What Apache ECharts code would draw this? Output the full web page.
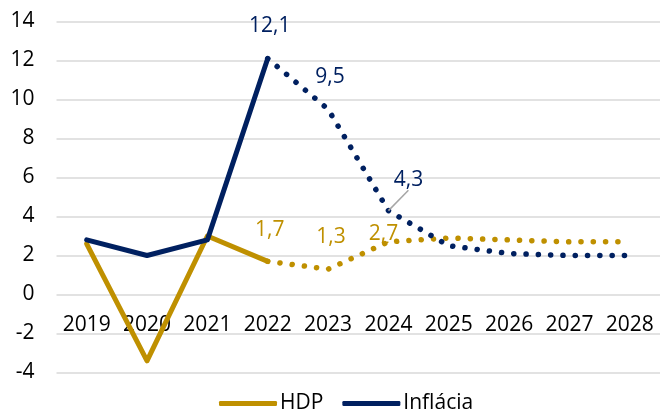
<!DOCTYPE html>
<html>
<head>
<meta charset="utf-8">
<script src="https://cdn.jsdelivr.net/npm/echarts@6/dist/echarts.min.js"></script>
<style>
html,body{margin:0;padding:0;background:#fff;}
#c{width:660px;height:411px;}
</style>
</head>
<body>
<div id="c"></div>
<script>
var years = ['2019','2020','2021','2022','2023','2024','2025','2026','2027','2028'];
var hdpActual = [2.6, -3.4, 3.0, 1.7, null, null, null, null, null, null];
var hdpForecast = [null, null, null, 1.7, 1.3, 2.7, 2.9, 2.8, 2.7, 2.7];
var inflActual = [2.8, 2.0, 2.8, 12.1, null, null, null, null, null, null];
var inflForecast = [null, null, null, 12.1, 9.5, 4.3, 2.5, 2.1, 2.0, 2.0];
var yTicks = {min: -4, max: 14, interval: 2};
var labeledIdx = [3, 4, 5];
var leaderIdx = [5];

var NAVY = '#002060', GOLD = '#BF9000';
var FONT = 'Open Sans';

var inflOffsets = {3: [2, -33], 4: [2, -32], 5: [20, -31]};
var hdpOffsets = {3: [2, -31], 4: [3, -32], 5: [-5, -8]};

function withLabels(arr) {
  return arr.map(function (v, i) {
    if (labeledIdx.indexOf(i) >= 0 && v != null) {
      return {value: v, label: {show: true}, labelLine: {show: leaderIdx.indexOf(i) >= 0}};
    }
    return v;
  });
}
function fmt(p) { return String(p.value).replace('.', ','); }

var chart = echarts.init(document.getElementById('c'));
chart.setOption({
  animation: false,
  grid: {left: 56.5, right: -7, top: 21.5, bottom: 38.5},
  legend: {
    data: ['HDP', 'Inflácia'],
    bottom: -8,
    left: 214,
    itemWidth: 58,
    itemHeight: 5,
    itemGap: 19,
    textStyle: {fontFamily: FONT, fontSize: 21, color: '#000', padding: [0, 0, 0, -2]},
    icon: 'roundRect'
  },
  xAxis: {
    type: 'category',
    data: years,
    boundaryGap: true,
    position: 'bottom',
    axisLine: {show: false, onZero: false},
    axisTick: {show: false},
    axisLabel: {fontFamily: FONT, fontSize: 21, color: '#000', margin: -57.5, interval: 0}
  },
  yAxis: {
    type: 'value',
    min: yTicks.min, max: yTicks.max, interval: yTicks.interval,
    axisLine: {show: false},
    axisTick: {show: false},
    splitLine: {lineStyle: {color: '#d9d9d9', width: 1.5}},
    axisLabel: {fontFamily: FONT, fontSize: 21, color: '#000', margin: 22}
  },
  series: [
    {
      name: 'HDP', type: 'line', data: hdpActual,
      showSymbol: false,
      lineStyle: {color: GOLD, width: 5, cap: 'round', join: 'round'},
      itemStyle: {color: GOLD}
    },
    {
      name: 'Inflácia', type: 'line', data: inflActual,
      showSymbol: false,
      lineStyle: {color: NAVY, width: 5, cap: 'round', join: 'round'},
      itemStyle: {color: NAVY}
    },
    {
      name: 'HDP prognóza', type: 'line', data: withLabels(hdpForecast),
      symbol: 'circle', symbolSize: 0.1, showSymbol: true, showAllSymbol: true,
      lineStyle: {color: GOLD, width: 5.5, cap: 'round', type: [0.1, 12.2]},
      itemStyle: {color: GOLD},
      label: {show: false, position: 'inside', formatter: fmt, fontFamily: FONT, fontSize: 21, color: GOLD},
      labelLine: {show: false, lineStyle: {color: GOLD, width: 1.5}},
      labelLayout: function (p) { var o = hdpOffsets[p.dataIndex] || [0, 0]; return {dx: o[0], dy: o[1]}; }
    },
    {
      name: 'Inflácia prognóza', type: 'line', data: withLabels(inflForecast),
      symbol: 'circle', symbolSize: 0.1, showSymbol: true, showAllSymbol: true,
      lineStyle: {color: NAVY, width: 5.5, cap: 'round', type: [0.1, 12.2]},
      itemStyle: {color: NAVY},
      label: {show: false, position: 'inside', formatter: fmt, fontFamily: FONT, fontSize: 21, color: NAVY},
      labelLine: {show: false, lineStyle: {color: '#a6a6a6', width: 1.5}},
      labelLayout: function (p) { var o = inflOffsets[p.dataIndex] || [0, 0]; return {dx: o[0], dy: o[1]}; }
    }
  ]
});
</script>
</body>
</html>
